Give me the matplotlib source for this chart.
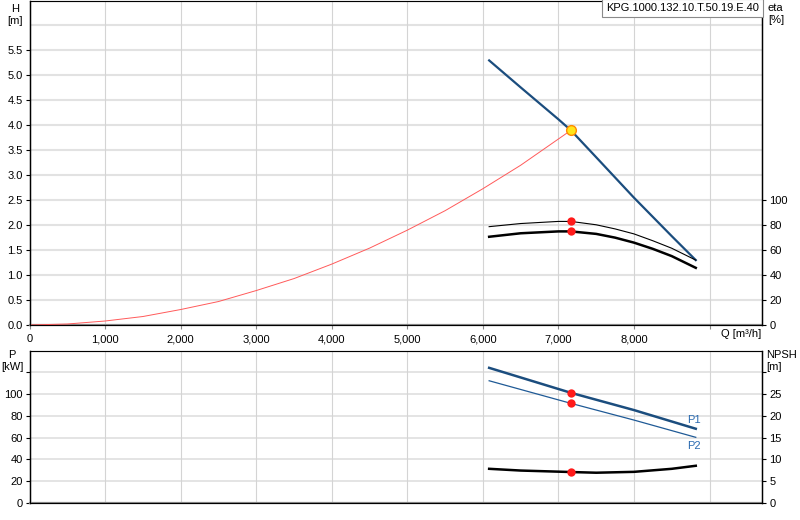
import numpy as np
import matplotlib
matplotlib.use("Agg")
import matplotlib.pyplot as plt

plt.rcParams['font.family'] = ['Liberation Sans', 'DejaVu Sans']
plt.rcParams['font.size'] = 8

# pump curve (H) and duty point
q_pump = [6083, 6500, 7000, 7165, 7500, 8000, 8500, 8818]
h_pump = [5.30, 4.76, 4.12, 3.90, 3.36, 2.55, 1.78, 1.30]

# system curve
q_sys = [0, 500, 1000, 1500, 2000, 2500, 3000, 3500, 4000, 4500, 5000, 5500, 6000, 6500, 7165]
h_sys = [0, 0.02, 0.08, 0.17, 0.31, 0.47, 0.69, 0.93, 1.22, 1.54, 1.90, 2.29, 2.73, 3.20, 3.90]

# efficiency curves
q_eta = [6083, 6500, 7000, 7165, 7500, 7750, 8000, 8250, 8500, 8818]
eta1 = [78.8, 81.3, 83.0, 83.0, 80.3, 77.0, 73.0, 67.5, 61.5, 52.0]
eta2 = [70.7, 73.5, 75.0, 75.0, 73.0, 70.0, 66.0, 61.0, 55.2, 45.8]

# power and NPSH
q_p = [6083, 7165, 8000, 8818]
p1 = [124.2, 101.2, 85.3, 68.1]
p2 = [112.3, 91.5, 76.1, 60.2]
q_npsh = [6083, 6500, 7165, 7500, 8000, 8500, 8818]
npsh = [7.8, 7.4, 7.06, 6.9, 7.1, 7.8, 8.5]

q_duty = 7165
h_duty = 3.90
eta1_duty, eta2_duty = 83.0, 75.0
p1_duty, p2_duty = 101.2, 91.5
npsh_duty = 7.06

title = "KPG.1000.132.10.T.50.19.E.40"

blue = '#1b4d7e'
grid_h = '#e2e2e2'
grid_v = '#d4d4d4'

fig = plt.figure(figsize=(8, 5.2), dpi=100)
ax = fig.add_axes([0.037, 0.375, 0.916, 0.624])
ax2 = fig.add_axes([0.037, 0.0333, 0.916, 0.2923])


def style(a, twin):
    for s in ['left', 'right']:
        a.spines[s].set_color('black')
        twin.spines[s].set_color('black')
    for s in ['top', 'bottom']:
        a.spines[s].set_color('#8a8a8a')
    a.spines['bottom'].set_linewidth(1.6)
    a.spines['left'].set_linewidth(1.0)
    twin.spines['right'].set_linewidth(1.0)
    a.set_xlim(0, 9700)
    a.set_xticks(range(0, 10000, 1000))
    for x in range(1000, 10000, 1000):
        a.axvline(x, color=grid_v, lw=0.8, zorder=0)
    a.tick_params(axis='y', length=3, width=0.8, pad=2, labelsize=8)
    twin.tick_params(axis='y', length=3, width=0.8, pad=2, labelsize=8)
    a.tick_params(axis='x', length=3, color='#8a8a8a', labelsize=8)


# top: head + efficiency
axe = ax.twinx()
ax.set_ylim(0, 6.5)
ax.set_yticks(np.arange(0, 6.01, 0.5))
ax.set_yticklabels([f"{v:.1f}" for v in np.arange(0, 5.51, 0.5)] + [""])
for y in np.arange(0.5, 6.01, 0.5):
    ax.axhline(y, color=grid_h, lw=1.5, zorder=0)
axe.set_ylim(0, 260)
axe.set_yticks(range(0, 101, 20))
style(ax, axe)
ax.set_xticklabels(["0", "1,000", "2,000", "3,000", "4,000", "5,000", "6,000", "7,000", "8,000", ""])
ax.yaxis.get_major_ticks()[-1].tick1line.set_visible(False)

ax.plot(q_sys, h_sys, color='#ff5a5a', lw=0.7, zorder=3)
ax.plot(q_pump, h_pump, color=blue, lw=1.6, zorder=4)
axe.plot(q_eta, eta1, color='black', lw=0.8, zorder=4)
axe.plot(q_eta, eta2, color='black', lw=1.8, zorder=4)
axe.plot([q_duty, q_duty], [eta1_duty, eta2_duty], 'o', color='#ff1a1a', ms=6, mec='none', zorder=5)
axe.set_zorder(ax.get_zorder() + 1)
axe.patch.set_visible(False)
axe.plot(q_duty, h_duty * 40, 'o', color='#ffe61a', mec='#ff8a00', mew=1.0, ms=7, zorder=10)

ax.text(9690, -0.08, "Q [m³/h]", ha='right', va='top', fontsize=8)
fig.text(15 / 800, 1 - 4 / 520, "H\n[m]", ha='center', va='top', fontsize=8, linespacing=1.3)
fig.text(768 / 800, 1 - 3 / 520, "eta\n[%]", ha='left', va='top', fontsize=8, linespacing=1.3)
fig.text(759 / 800, 1 - 8 / 520, title, ha='right', va='center', fontsize=8,
         bbox=dict(boxstyle='square,pad=0.35', fc='white', ec='#8a8a8a', lw=0.8))

# bottom: power + NPSH
axn = ax2.twinx()
ax2.set_ylim(0, 140)
ax2.set_yticks(range(0, 121, 20))
ax2.set_yticklabels([str(v) for v in range(0, 101, 20)] + [""])
for y in range(20, 121, 20):
    ax2.axhline(y, color=grid_h, lw=1.3, zorder=0)
axn.set_ylim(0, 35)
axn.set_yticks(range(0, 31, 5))
axn.set_yticklabels([str(v) for v in range(0, 26, 5)] + [""])
style(ax2, axn)
ax2.set_xticklabels([])
ax2.tick_params(axis='x', length=0)

ax2.plot(q_p, p1, color=blue, lw=1.8, zorder=4)
ax2.plot(q_p, p2, color='#1f5a96', lw=0.9, zorder=4)
axn.plot(q_npsh, npsh, color='black', lw=1.8, zorder=4)
ax2.plot([q_duty, q_duty], [p1_duty, p2_duty], 'o', color='#ff1a1a', ms=6, mec='none', zorder=5)
axn.plot(q_duty, npsh_duty, 'o', color='#ff1a1a', ms=6, mec='none', zorder=5)
axn.set_zorder(ax2.get_zorder() + 1)
axn.patch.set_visible(False)
ax2.text(8700, p1[-1] + 3, "P1", color='#2a6ab0', fontsize=8, va='bottom', ha='left')
ax2.text(8700, p2[-1] - 3, "P2", color='#2a6ab0', fontsize=8, va='top', ha='left')

fig.text(12 / 800, 1 - 350 / 520, "P\n[kW]", ha='center', va='top', fontsize=8, linespacing=1.3)
fig.text(766 / 800, 1 - 350 / 520, "NPSH\n[m]", ha='left', va='top', fontsize=8, linespacing=1.3)

fig.savefig("out.png", dpi=100)
